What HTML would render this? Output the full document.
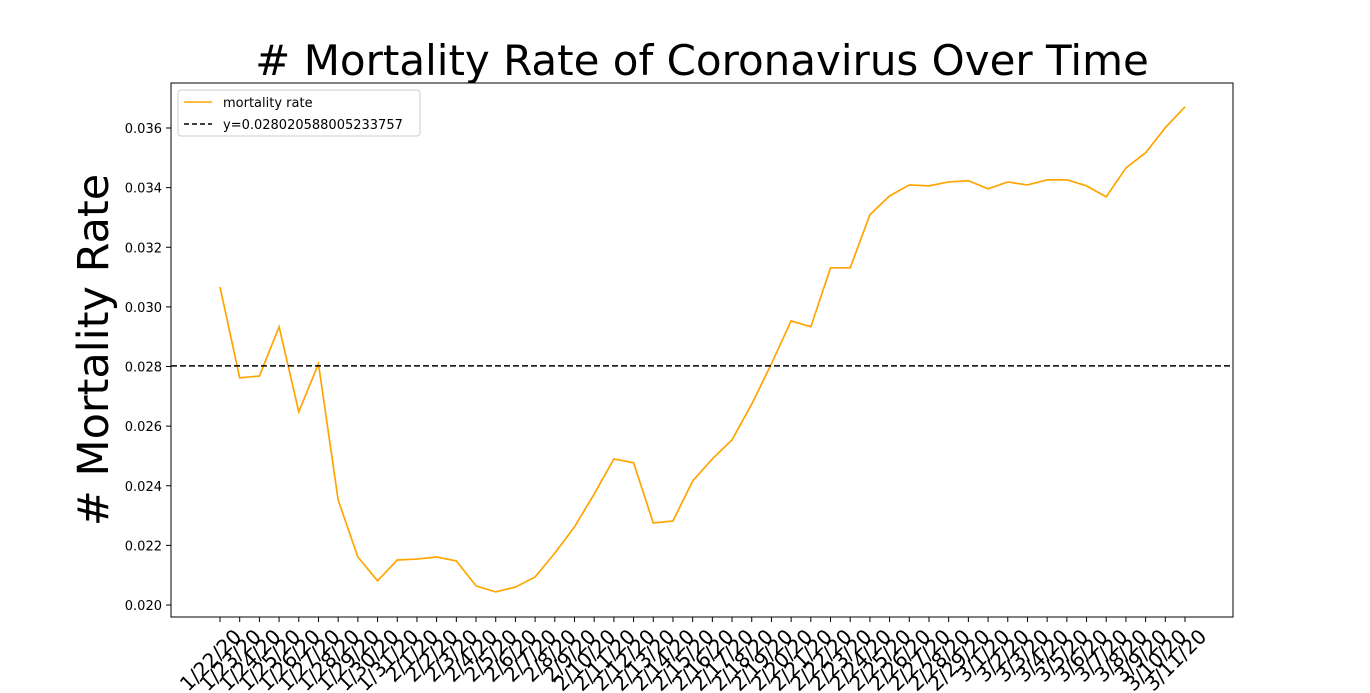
<!DOCTYPE html>
<html><head><meta charset="utf-8"><style>
html,body{margin:0;padding:0;background:#fff;}
svg{display:block;font-family:"DejaVu Sans","Liberation Sans",sans-serif;}
</style></head><body>
<svg id="chart" width="1370" height="693">
<text x="702" y="75" font-size="42" text-anchor="middle"># Mortality Rate of Coronavirus Over Time</text>
<text transform="translate(108,350) rotate(-90)" font-size="43" text-anchor="middle"># Mortality Rate</text>
<g id="axes"></g>
<g id="marks"></g>
<rect x="171" y="83" width="1062" height="534" fill="none" stroke="#000" stroke-width="1"/>
<g>
<rect x="178" y="90" width="242" height="46" rx="3" fill="#fff" stroke="#ccc"/>
<line x1="184" y1="102" x2="212" y2="102" stroke="orange" stroke-width="1.5"/>
<text x="223" y="107" font-size="13">mortality rate</text>
<line x1="184" y1="124" x2="212" y2="124" stroke="#000" stroke-width="1.5" stroke-dasharray="5,3"/>
<text x="223" y="129" font-size="13">y=0.028020588005233757</text>
</g>
</svg>
<script>
const categories = ["1/22/20","1/23/20","1/24/20","1/25/20","1/26/20","1/27/20","1/28/20","1/29/20","1/30/20","1/31/20","2/1/20","2/2/20","2/3/20","2/4/20","2/5/20","2/6/20","2/7/20","2/8/20","2/9/20","2/10/20","2/11/20","2/12/20","2/13/20","2/14/20","2/15/20","2/16/20","2/17/20","2/18/20","2/19/20","2/20/20","2/21/20","2/22/20","2/23/20","2/24/20","2/25/20","2/26/20","2/27/20","2/28/20","2/29/20","3/1/20","3/2/20","3/3/20","3/4/20","3/5/20","3/6/20","3/7/20","3/8/20","3/9/20","3/10/20","3/11/20"];
const mortality = [0.03067,0.02762,0.02768,0.02933,0.02648,0.02809,0.02352,0.02161,0.02081,0.02151,0.02154,0.02161,0.02148,0.02064,0.02044,0.02060,0.02094,0.02174,0.02262,0.02372,0.02490,0.02477,0.02275,0.02282,0.02416,0.02490,0.02554,0.02674,0.02809,0.02953,0.02933,0.03131,0.03131,0.03309,0.03372,0.03409,0.03406,0.03419,0.03423,0.03396,0.03419,0.03409,0.03426,0.03426,0.03406,0.03369,0.03466,0.03517,0.03601,0.03671];
const meanValue = 0.028020588005233757;
const yTicks = [0.020,0.022,0.024,0.026,0.028,0.030,0.032,0.034,0.036];
const NS="http://www.w3.org/2000/svg";
function xScale(i){return 220 + i*(1185-220)/49;}
function yScale(v){return 605 - (v-0.020)/0.016*(605-128);}
const axes=document.getElementById('axes'), marks=document.getElementById('marks');
function mk(tag,attrs,parent){const e=document.createElementNS(NS,tag);for(const k in attrs)e.setAttribute(k,attrs[k]);parent.appendChild(e);return e;}
yTicks.forEach(t=>{
  const y=yScale(t);
  const l=mk('line',{x1:166,x2:171,y1:y,y2:y,stroke:'#000'},axes);
  
  
  const tx=mk('text',{x:162,y:y+5,'font-size':13,'text-anchor':'end'},axes);
  tx.textContent=t.toFixed(3);
  
  
});
categories.forEach((c,i)=>{
  const x=xScale(i);
  const l=mk('line',{x1:x,x2:x,y1:617,y2:622,stroke:'#000'},axes);
  
  
  const tx=mk('text',{transform:`translate(${x+12},${627}) rotate(-45)`,'font-size':20,'text-anchor':'end','dominant-baseline':'hanging'},axes);
  tx.textContent=c;
  
  
});
const pl=mk('polyline',{points:mortality.map((v,i)=>xScale(i)+','+yScale(v)).join(' '),fill:'none',stroke:'orange','stroke-width':1.7},marks);


const ml=mk('line',{x1:171,x2:1233,y1:yScale(meanValue),y2:yScale(meanValue),stroke:'#000','stroke-width':1.6,'stroke-dasharray':'6,3'},marks);


</script>
</body></html>
